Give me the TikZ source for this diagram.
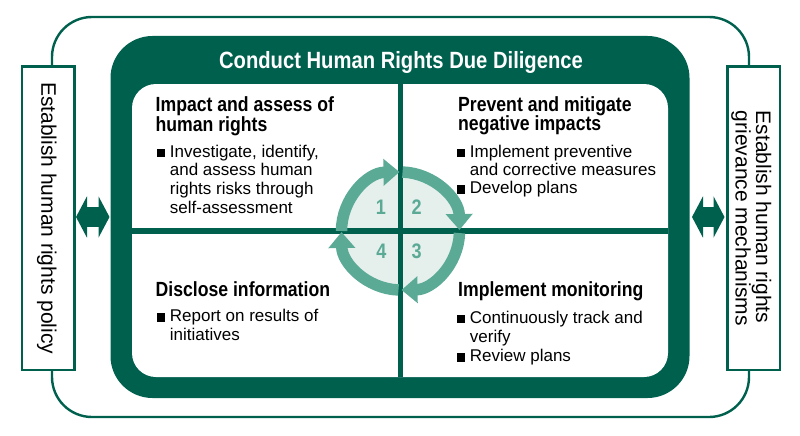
\documentclass[tikz,border=0pt]{standalone}
\usepackage{fontspec}
\setmainfont{Liberation Sans}
\newfontfamily\condb[FakeStretch=0.86]{Liberation Sans}
\usetikzlibrary{arrows.meta}
\definecolor{dk}{HTML}{00604E}
\definecolor{lg}{HTML}{5BAA96}
\definecolor{lf}{HTML}{E5F0EC}
\newcommand{\bul}{\rule{8.3pt}{8.3pt}\hspace{4.7pt}}
\newcommand{\ind}{\hspace*{13pt}}
\newcommand{\lines}[2]{\vtop{\baselineskip=#1\lineskiplimit=-100pt\lineskip=0pt #2}}
\begin{document}
\begin{tikzpicture}[x=1pt,y=1pt,yscale=-1,
  qhead/.style={anchor=base west, inner sep=0, font=\condb\bfseries\fontsize{20.5}{20}\selectfont},
  qbody/.style={anchor=base west, inner sep=0, font=\fontsize{17}{18.7}\selectfont},
  sidebox/.style={draw=dk, line width=2.5pt, fill=white, minimum width=52.5pt, minimum height=303.5pt, inner sep=0, outer sep=0},
  sidetext/.style={rotate=-90, inner sep=0, font=\fontsize{21}{18.4}\selectfont, align=left},
  ring/.style={draw=lg, line width=11.5pt, -{Triangle[width=26pt,length=16pt]}},
  digit/.style={text=lg, font=\condb\bfseries\fontsize{21}{21}\selectfont, inner sep=0},
  dbl/.style={draw=dk, line width=20.5pt, {Triangle[width=41pt,length=11pt]}-{Triangle[width=41pt,length=11pt]}}
]
\useasboundingbox (0,0) rectangle (800,436);
% outer rounded frame
\draw[dk, line width=2.4pt, rounded corners=40pt] (52,17) rectangle (749,417);
% dark frame
\node[fill=dk, rounded corners=42pt, minimum width=579pt, minimum height=362pt, inner sep=0, outer sep=0] (frame) at (400,217) {};
\node[anchor=base, text=white, font=\condb\bfseries\fontsize{23.5}{24}\selectfont, inner sep=0] (title) at (401,68.3) {Conduct Human Rights Due Diligence};
% inner white area
\fill[white, rounded corners=24pt] (132,84) rectangle (668,377);
% circle
\node[circle, fill=lf, minimum size=120pt, inner sep=0] (c) at (400.5,231) {};
% dividers
\draw[dk, line width=5.5pt] (132,231) -- (668,231);
\draw[dk, line width=5.5pt] (400.5,84) -- (400.5,377);
% ring arrows
\draw[ring] ([shift={(-180:59pt)}]c.center) arc[start angle=-180, end angle=-91, radius=59pt];
\draw[ring] ([shift={(-88:59pt)}]c.center) arc[start angle=-88, end angle=-1, radius=59pt];
\draw[ring] ([shift={(2:59pt)}]c.center) arc[start angle=2, end angle=89, radius=59pt];
\draw[ring] ([shift={(92:59pt)}]c.center) arc[start angle=92, end angle=179, radius=59pt];
\node[digit] (d1) at (381,207.5) {1};
\node[digit] (d2) at (416.7,207.5) {2};
\node[digit] (d3) at (416.7,251.7) {3};
\node[digit] (d4) at (381.3,251.7) {4};
% quadrant texts
\node[qhead] (tlh) at (155.5,111.7) {\lines{19.3pt}{\hbox{Impact and assess of}\hbox{human rights}}};
\node[qbody] (tlb) at (156.7,157.3) {\lines{18.6pt}{\hbox{\bul Investigate, identify,}\hbox{\ind and assess human}\hbox{\ind rights risks through}\hbox{\ind self-assessment}}};
\node[qhead] (trh) at (458,111.7) {\lines{19pt}{\hbox{Prevent and mitigate}\hbox{negative impacts}}};
\node[qbody] (trb) at (456.7,157.3) {\lines{18.1pt}{\hbox{\bul Implement preventive}\hbox{\ind and corrective measures}\hbox{\bul Develop plans}}};
\node[qhead] (blh) at (155.5,296.7) {Disclose information};
\node[qbody] (blb) at (156.7,321.7) {\lines{18.4pt}{\hbox{\bul Report on results of}\hbox{\ind initiatives}}};
\node[qhead] (brh) at (458,296.7) {Implement monitoring};
\node[qbody] (brb) at (456.7,323.3) {\lines{19.2pt}{\hbox{\bul Continuously track and}\hbox{\ind verify}\hbox{\bul Review plans}}};
% side boxes
\node[sidebox] (lbox) at (48.25,218.25) {};
\node[sidebox] (rbox) at (753.75,218.25) {};
\node[sidetext] (ltext) at ([xshift=-1.5pt]lbox.center) {Establish human rights policy};
\node[sidetext] (rtext) at ([xshift=-2.4pt]rbox.center) {Establish human rights\\grievance mechanisms};
% double arrows
\draw[dbl, shorten <=1.5pt, shorten >=1pt] (lbox.east |- frame.west) -- (frame.west);
\draw[dbl, shorten <=2.5pt, shorten >=3pt] (frame.east) -- (rbox.west |- frame.east);
\end{tikzpicture}
\end{document}
